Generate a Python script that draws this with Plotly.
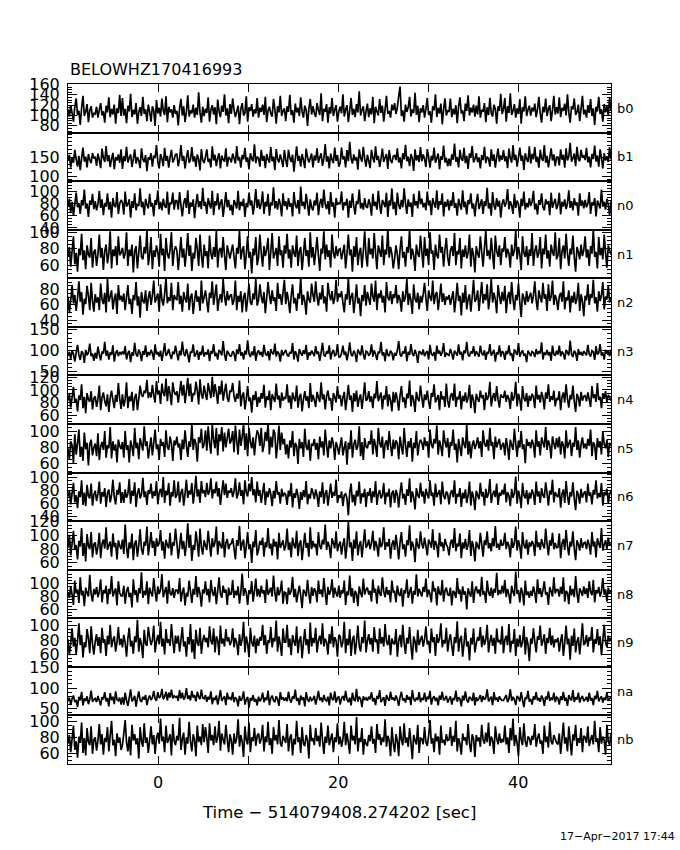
import plotly.graph_objects as go

# ---------------- data ----------------
names = ["b0", "b1", "n0", "n1", "n2", "n3", "n4", "n5", "n6", "n7", "n8", "n9", "na", "nb"]

t_start = -10.0
t_end = 50.3

b0 = [112,98,120,105,88,117,133,101,109,82,115,138,99,107,122,87,110,118,96,104,
      103,117,96,111,124,100,108,86,119,106,135,97,113,102,121,84,114,105,140,99,
      134,100,113,85,119,108,142,97,111,102,124,84,106,116,99,136,103,112,89,121,
      107,88,118,110,80,130,104,115,98,133,109,101,137,87,117,106,112,96,120,103,
      109,81,114,132,100,118,87,107,139,98,110,104,121,96,115,101,145,106,86,117,
      99,113,105,135,88,111,120,102,116,83,131,108,97,119,107,141,100,114,85,122,
      103,133,111,97,108,119,83,113,124,100,105,137,88,116,109,122,98,112,104,134,
      96,115,107,121,101,136,87,110,117,104,98,132,112,84,118,106,138,99,109,114,
      89,118,107,140,101,110,86,123,106,115,99,135,108,96,119,111,80,114,132,102,
      118,105,97,124,110,101,143,89,113,107,122,86,116,104,134,99,111,120,88,108,
      117,104,141,98,112,120,87,109,134,101,113,97,122,106,147,100,111,118,89,108,
      123,97,114,102,136,85,117,108,100,132,105,119,88,112,138,103,109,96,121,110,
      124,103,115,138,156,99,110,88,121,107,116,136,98,112,105,144,101,119,87,114,
      106,120,96,113,134,101,108,86,118,110,141,97,115,104,123,83,112,133,100,109,
      108,133,97,113,102,120,85,117,135,104,110,89,123,109,139,100,115,106,121,98,
      119,102,137,96,111,107,124,87,116,101,134,105,98,121,113,84,118,109,142,103,
      112,134,88,118,105,143,101,109,122,96,114,103,132,84,116,108,137,99,111,119,
      100,115,108,123,97,112,136,104,86,117,106,133,99,113,120,89,110,138,102,116,
      104,135,97,115,109,123,100,141,106,86,118,112,133,101,107,121,89,113,138,102,
      111,96,120,105,132,99,114,82,117,108,136,103,112,88,122,106,118,100,134,109]

b1 = [140,156,122,149,135,169,144,125,153,116,147,175,138,151,123,158,143,134,160,146,
      151,127,159,142,121,172,148,137,179,139,155,124,146,161,118,150,141,157,135,170,
      119,152,139,177,136,148,157,124,145,170,133,150,141,121,173,144,137,155,113,149,
      143,160,125,154,147,181,138,120,158,145,126,174,140,153,122,149,169,136,144,157,
      158,126,146,181,140,153,120,148,168,135,143,176,138,152,124,157,145,115,171,142,
      134,150,170,137,145,123,178,141,156,126,148,160,120,154,143,138,173,125,150,146,
      136,159,147,133,179,141,150,122,155,144,174,137,149,118,160,146,139,183,134,151,
      147,125,169,140,153,121,158,144,135,176,139,151,116,171,145,136,157,142,124,168,
      143,124,169,148,137,156,112,145,178,140,153,125,158,142,121,172,150,136,147,159,
      123,154,141,173,135,149,160,127,146,184,138,152,120,159,143,134,175,140,155,125,
      135,175,144,152,123,168,139,190,146,133,157,141,150,117,170,148,138,177,145,125,
      156,140,121,169,148,136,178,142,153,124,145,172,137,149,158,119,168,143,134,152,
      154,142,173,136,149,120,160,144,182,139,151,126,158,147,114,170,141,155,137,176,
      139,157,145,124,171,150,122,153,141,175,135,147,159,118,152,143,180,136,148,126,
      146,127,157,143,185,138,150,123,169,145,140,174,134,153,119,159,148,179,136,144,
      160,137,149,120,155,142,177,134,151,146,125,170,140,157,122,150,172,138,154,143,
      168,139,152,121,172,147,135,181,142,156,125,149,175,140,154,116,160,145,137,178,
      133,158,144,176,137,151,122,169,146,140,181,135,153,123,148,173,141,157,126,150,
      150,128,170,143,156,122,173,141,152,187,138,147,159,126,177,145,139,169,148,155,
      142,174,136,151,123,158,145,180,138,154,125,170,147,120,160,141,152,137,176,144]

n0 = [76,88,65,83,60,79,98,74,81,63,86,77,103,72,80,58,85,78,96,71,
      84,69,79,101,73,87,61,81,75,97,70,83,57,89,77,74,99,63,80,86,
      82,62,100,75,79,87,57,84,73,97,69,80,76,105,74,83,61,88,78,72,
      96,75,81,59,86,78,102,71,83,69,88,76,73,100,62,82,79,98,70,85,
      85,70,99,77,59,81,89,73,102,63,82,75,87,56,79,96,74,84,71,106,
      76,83,63,89,79,72,101,61,84,77,97,70,81,87,58,78,99,74,86,69,
      78,61,86,80,72,101,69,83,76,88,58,81,74,98,77,85,62,79,104,73,
      87,71,80,100,63,83,75,96,60,82,77,107,72,84,70,88,79,59,97,76,
      84,70,89,75,81,59,99,78,72,86,63,108,76,83,71,96,79,60,87,74,
      69,85,77,98,61,80,88,73,103,79,71,84,62,99,75,82,57,89,78,81,
      80,100,69,82,77,88,57,85,73,97,76,62,84,79,103,72,81,70,89,75,
      73,87,79,60,96,76,83,70,101,78,63,86,81,74,98,58,85,77,105,71,
      83,61,98,78,71,86,74,105,80,63,87,75,82,58,96,77,84,72,101,79,
      88,74,81,69,100,77,85,61,89,80,73,102,70,84,78,97,59,83,75,87,
      69,85,76,99,73,81,60,88,78,70,102,74,83,62,86,79,97,72,80,59,
      82,96,71,79,87,63,84,76,106,72,81,60,99,77,70,89,75,85,57,80,
      87,75,82,104,71,84,77,63,96,73,85,79,57,88,76,100,70,81,74,89,
      76,83,101,70,80,62,86,78,97,74,69,87,79,84,61,98,73,81,88,71,
      78,98,62,83,75,87,71,80,102,73,84,69,89,77,82,60,97,76,85,72,
      86,74,80,99,63,82,77,89,59,85,79,72,103,75,83,70,88,78,61,84]

n1 = [70,82,58,77,95,61,75,52,80,72,98,66,78,55,84,73,69,93,57,76,
      79,59,73,97,69,81,54,77,85,62,74,101,56,79,71,83,60,95,72,75,
      81,68,74,100,59,79,71,85,51,77,83,56,75,96,70,67,82,74,103,60,
      73,94,55,78,70,84,76,58,98,72,80,53,93,74,68,79,100,59,77,83,
      78,54,73,94,69,80,58,76,99,71,84,53,75,68,93,79,59,97,72,57,
      85,71,77,56,96,74,67,82,70,102,57,78,81,69,94,72,54,84,76,68,
      77,85,70,56,81,74,102,67,78,83,55,73,95,69,76,50,80,72,94,60,
      69,97,75,58,83,71,79,93,54,76,99,68,74,81,59,95,72,78,57,84,
      74,98,68,79,57,84,75,70,96,59,77,82,54,73,93,71,78,58,100,69,
      82,60,76,94,72,53,80,74,101,67,85,70,78,57,97,75,68,83,71,79,
      80,67,76,85,56,74,97,72,79,52,83,70,94,60,75,81,57,77,101,71,
      58,93,73,80,68,99,75,55,84,77,70,96,60,79,73,104,69,82,74,56,
      68,84,73,55,79,95,69,76,58,82,75,104,67,80,72,53,85,74,70,96,
      76,57,94,71,80,60,100,74,78,54,85,72,68,97,75,82,58,79,93,70,
      59,78,83,71,99,60,77,73,93,56,79,70,84,68,75,97,58,81,72,51,
      83,74,69,95,76,58,81,102,71,78,67,93,73,55,96,77,70,84,60,80,
      76,94,69,80,74,57,85,71,78,102,67,82,73,54,95,75,70,83,60,79,
      71,99,59,77,84,69,75,94,56,80,73,97,68,78,58,85,76,71,100,67,
      72,93,55,77,84,68,98,74,59,80,73,96,70,52,82,76,67,85,71,78,
      95,69,79,59,83,74,104,70,76,56,94,72,81,67,97,75,57,84,78,73]

n2 = [71,49,66,86,62,73,52,69,91,64,77,47,68,61,85,72,53,89,65,51,
      74,63,70,53,88,67,61,76,50,94,64,71,79,54,68,75,48,86,66,72,
      64,75,53,70,86,61,68,48,73,66,90,59,71,43,77,65,62,79,52,69,
      78,60,72,92,63,69,75,51,87,67,59,74,96,62,70,65,89,53,73,68,
      67,90,61,72,51,77,68,63,88,53,70,75,48,66,79,64,71,52,92,62,
      70,79,65,50,76,69,91,60,73,87,52,67,74,63,94,71,59,78,66,72,
      74,60,67,92,53,72,64,78,50,70,76,51,68,88,63,60,75,67,94,59,
      66,87,71,62,77,49,69,90,73,61,79,65,70,52,89,68,74,60,76,93,
      61,77,66,49,72,87,62,69,52,75,68,96,60,73,65,47,78,67,63,88,
      73,64,91,70,59,76,67,86,62,71,51,89,74,66,78,61,69,93,64,75,
      70,78,63,50,74,67,95,60,71,76,49,66,87,62,69,45,73,65,86,59,
      77,68,60,88,71,64,92,53,75,69,79,63,72,50,90,70,66,78,61,74,
      69,86,62,73,67,51,78,64,71,94,60,75,66,48,87,68,63,76,54,72,
      63,74,89,68,52,79,70,65,92,61,73,77,53,69,88,64,75,60,71,67,
      73,60,69,78,50,67,89,65,72,46,76,63,86,54,68,74,51,70,93,64,
      68,79,52,71,90,62,74,66,87,54,70,94,63,76,67,49,86,72,61,77,
      65,85,49,70,77,61,90,67,53,73,66,88,63,44,75,69,60,78,64,71,
      76,62,72,91,66,53,79,70,63,89,68,74,52,87,65,71,92,60,73,67,
      53,71,76,64,91,54,70,66,79,50,72,63,77,61,68,89,52,74,65,45,
      72,66,87,60,74,69,93,62,70,51,78,65,73,90,54,71,67,86,63,69]

n3 = [88,97,80,101,92,74,95,114,90,78,99,94,71,102,89,96,117,87,93,76,
      95,81,110,91,77,98,93,121,88,100,79,96,90,113,74,94,101,87,97,92,
      98,91,111,79,94,100,73,96,88,119,92,86,103,95,75,99,90,113,85,97,
      89,102,94,78,115,91,97,86,100,76,95,118,88,93,104,90,80,98,92,112,
      93,77,100,89,122,94,87,104,91,72,98,95,115,86,92,101,78,97,90,112,
      86,96,91,103,75,99,93,116,87,95,79,102,97,89,123,92,76,100,94,88,
      87,99,94,75,103,92,116,88,96,79,100,91,125,93,85,98,89,111,76,95,
      101,90,97,85,114,93,88,99,77,104,95,91,117,86,98,93,74,102,89,96,
      102,90,86,97,93,118,79,99,91,74,104,95,88,101,92,114,78,96,89,100,
      94,87,111,92,98,76,96,119,90,86,99,93,113,79,95,102,88,91,116,85,
      85,94,112,90,98,77,95,120,91,87,100,93,73,103,96,89,113,92,79,99,
      97,88,93,115,86,101,92,78,98,94,121,89,96,75,104,91,87,100,95,77,
      95,88,101,123,91,86,98,93,111,75,97,90,116,94,87,102,92,71,99,96,
      90,103,87,95,99,79,114,92,89,97,76,112,93,100,88,96,118,85,94,91,
      89,104,93,79,100,95,88,115,91,97,77,101,94,121,90,86,98,93,111,87,
      99,92,86,112,94,89,101,78,97,93,116,88,95,102,74,96,91,113,86,98,
      96,78,99,92,113,89,94,75,103,97,90,118,86,95,101,88,93,73,100,94,
      87,98,95,85,104,91,99,93,120,79,96,90,102,89,97,76,112,92,88,100,
      91,112,87,98,93,79,102,96,89,124,92,85,100,95,76,104,90,97,88,99,
      94,89,114,92,86,100,97,78,111,91,95,116,88,96,79,102,93,99,87,103]

n4 = [83,94,72,88,105,80,86,66,91,84,109,71,89,63,95,85,81,98,69,87,
      90,73,85,107,68,88,96,82,74,93,65,87,99,84,71,92,81,111,86,70,
      93,74,85,112,71,90,82,97,67,88,94,68,86,107,92,89,99,95,116,87,
      96,88,108,91,80,114,93,99,78,110,95,90,118,82,106,94,76,112,97,92,
      98,80,96,114,91,108,79,97,119,90,110,81,95,92,113,99,77,117,93,86,
      107,94,84,111,98,87,121,89,109,96,78,106,93,115,83,97,110,88,81,99,
      97,111,90,81,94,86,115,74,91,96,69,85,106,82,88,64,92,84,98,73,
      89,80,95,86,108,72,90,84,99,68,93,87,81,110,85,91,71,96,83,88,
      86,109,80,91,70,96,87,82,107,72,89,94,66,85,98,83,90,71,111,81,
      92,84,73,97,88,81,112,85,93,69,90,99,83,87,67,95,89,80,106,86,
      92,74,88,97,68,86,108,84,91,65,95,82,99,73,87,93,70,89,112,83,
      85,98,81,90,71,94,87,114,82,89,96,69,91,85,106,74,93,84,66,97,
      80,96,85,67,91,106,81,88,71,94,87,115,74,92,84,65,97,86,82,107,
      88,72,93,84,99,82,70,95,89,109,80,86,92,68,98,85,90,73,110,83,
      72,90,95,83,110,73,89,85,98,69,91,82,96,80,87,108,71,93,84,63,
      94,86,81,99,87,92,68,96,84,90,113,74,88,95,82,106,85,72,93,89,
      88,99,81,92,86,70,97,83,90,113,74,94,85,67,106,87,82,95,73,91,
      83,94,89,71,107,85,92,80,97,88,69,96,86,109,81,90,84,99,74,87,
      84,98,68,89,96,80,109,86,72,92,85,107,82,65,94,88,74,97,83,90,
      91,82,96,85,73,106,87,93,81,111,84,89,71,95,86,98,80,92,88,83]

n5 = [79,65,88,83,60,97,71,85,103,68,81,63,99,78,86,57,84,90,70,80,
      85,69,98,64,81,87,77,101,67,83,79,106,66,88,76,84,61,90,82,78,
      87,67,101,77,83,61,89,81,69,105,79,86,65,92,84,76,107,82,88,66,
      80,93,70,86,103,78,84,64,91,82,87,68,102,81,77,94,85,63,89,83,
      94,80,85,64,90,78,102,83,68,88,81,110,77,91,85,62,93,86,104,79,
      84,102,76,107,86,72,109,90,79,105,70,97,88,106,75,99,80,92,104,85,
      89,101,74,108,88,71,103,82,94,110,77,98,69,105,87,79,93,70,90,102,
      97,82,105,74,83,100,88,112,71,94,80,103,98,66,85,108,77,99,84,91,
      71,84,66,89,80,101,69,86,82,59,91,79,87,68,104,81,77,90,63,85,
      82,91,77,86,65,94,80,88,70,103,83,67,89,79,93,85,64,87,81,71,
      83,93,70,80,88,58,86,78,102,67,84,90,77,82,107,69,87,64,92,81,
      79,88,84,102,71,91,82,68,105,86,80,94,66,85,89,77,101,83,69,90,
      78,89,85,65,94,81,71,105,83,68,88,80,92,62,86,79,101,70,84,90,
      86,77,93,82,88,67,103,84,79,91,85,108,71,89,81,69,102,87,80,92,
      67,87,82,103,77,85,61,91,80,69,93,84,79,109,71,88,66,83,89,78,
      84,93,79,88,68,102,85,81,90,76,105,82,87,65,94,80,86,91,77,83,
      86,70,92,81,64,90,83,77,104,85,68,89,80,101,78,84,60,91,82,87,
      79,90,84,67,102,81,88,70,93,86,80,106,77,89,83,66,94,85,78,92,
      80,94,71,88,83,66,102,79,85,90,69,86,81,106,77,89,67,84,93,79,
      85,78,91,82,103,69,87,83,64,92,80,88,71,101,84,79,90,68,86,82]

n6 = [71,80,59,76,92,62,73,53,79,70,96,58,77,56,89,72,68,91,57,74,
      80,64,75,94,60,78,71,84,55,76,82,62,73,97,70,59,81,74,93,61,
      78,61,82,69,75,98,60,80,72,93,55,76,84,68,74,100,70,79,58,81,
      75,91,68,79,72,95,59,77,83,70,101,61,80,73,92,57,78,71,96,69,
      73,94,62,77,83,57,75,97,69,80,74,92,60,78,103,71,82,61,95,76,
      81,70,92,74,79,99,68,82,76,94,71,84,58,78,96,73,91,69,80,77,
      84,70,79,99,68,75,93,72,81,59,96,77,71,91,79,101,73,82,62,94,
      72,81,61,77,92,58,79,70,84,75,56,80,68,95,74,78,60,83,71,76,
      74,58,80,71,92,54,76,69,83,72,52,78,66,81,70,95,59,75,68,84,
      77,67,82,73,55,79,70,93,60,76,81,57,74,91,69,78,72,97,61,73,
      69,79,56,73,75,68,42,77,91,62,74,57,80,71,94,60,76,70,83,55,
      78,72,84,61,79,70,95,58,75,81,68,73,92,59,77,71,83,54,76,80,
      61,81,74,54,77,93,68,75,58,82,72,99,62,79,70,51,84,73,69,92,
      71,79,60,83,74,68,96,72,77,57,91,70,76,81,59,94,73,67,79,75,
      59,76,81,70,96,60,75,71,84,55,77,68,82,61,73,94,57,79,70,50,
      80,73,67,92,71,78,57,83,69,76,98,61,74,80,70,91,58,77,72,81,
      74,91,62,78,72,56,83,69,76,102,60,80,71,53,92,73,68,81,59,77,
      68,82,75,58,94,71,79,61,84,73,69,93,76,57,80,74,97,62,78,72,
      70,84,54,75,82,61,95,72,58,78,71,93,68,50,80,74,60,83,69,76,
      79,62,91,72,77,59,81,74,96,68,76,70,92,57,78,73,83,61,75,80]

n7 = [82,101,71,88,107,79,86,65,92,84,111,70,89,62,102,85,80,105,68,87,
      90,72,84,104,67,88,94,81,112,79,86,91,69,103,83,89,65,93,85,80,
      94,73,116,83,67,90,81,103,64,88,93,69,86,109,80,72,91,85,113,71,
      87,105,82,92,70,96,84,89,108,78,91,66,94,86,81,104,71,90,85,110,
      89,66,84,104,80,92,70,87,118,82,101,63,86,79,106,90,69,110,83,72,
      93,85,79,107,88,69,96,83,90,113,72,92,86,81,105,68,89,95,80,87,
      88,96,81,65,93,85,114,78,89,94,67,84,105,80,87,60,91,83,108,71,
      79,92,86,97,69,90,83,111,81,88,71,95,84,91,65,104,82,87,93,78,
      85,110,79,90,68,97,86,81,107,70,88,93,64,84,104,82,89,69,112,80,
      92,83,88,71,105,85,80,94,87,116,79,91,84,67,96,89,81,106,77,86,
      91,72,87,96,66,85,121,83,90,63,94,81,106,71,86,92,68,88,109,82,
      86,94,80,89,107,78,92,85,69,97,83,88,112,79,90,84,95,66,87,93,
      79,101,84,65,90,105,80,87,69,93,86,115,78,91,83,61,96,85,81,106,
      88,81,97,85,71,94,89,82,109,79,92,86,68,104,84,90,77,95,87,83,
      71,89,94,82,111,77,88,84,103,67,90,81,95,79,86,108,70,92,83,62,
      91,85,80,104,87,69,93,86,106,81,89,77,96,84,114,82,88,79,94,85,
      87,104,80,91,85,68,96,82,89,113,78,93,84,66,105,86,81,94,72,90,
      84,92,87,70,107,83,90,79,95,86,81,110,88,71,93,85,104,80,89,82,
      83,103,67,88,95,79,108,85,71,91,84,106,81,64,93,87,78,96,82,89,
      90,80,94,86,72,105,84,91,68,96,88,82,111,78,87,93,80,97,85,88]

n8 = [87,78,96,83,67,105,85,91,70,110,82,89,65,94,86,80,114,84,72,92,
      83,95,79,88,107,71,90,85,97,68,92,84,112,80,87,93,66,104,86,81,
      81,97,69,88,95,79,86,63,107,83,90,71,93,85,118,78,89,82,104,68,
      94,86,80,109,88,72,96,84,91,115,79,87,95,69,105,85,82,93,78,90,
      90,84,109,72,87,94,66,86,80,105,88,70,92,83,112,79,95,85,64,91,
      85,104,82,92,71,106,87,81,95,68,89,110,84,78,97,86,91,67,94,83,
      84,106,78,89,82,96,69,87,116,81,93,86,67,90,84,104,72,88,108,80,
      92,79,97,85,90,70,107,83,88,94,80,113,86,72,95,82,89,105,69,87,
      86,68,94,83,89,111,79,92,71,85,97,82,62,91,87,80,106,84,69,95,
      81,93,88,71,105,84,91,79,109,86,67,95,83,89,107,78,94,85,80,97,
      78,90,85,105,67,88,82,113,80,93,70,89,84,65,96,86,79,108,83,91,
      94,83,89,72,107,86,92,69,97,85,81,110,88,79,95,83,90,71,105,87,
      88,71,97,84,81,93,64,90,85,107,78,87,95,69,89,83,115,80,92,86,
      80,95,87,108,79,91,84,71,104,88,93,66,96,85,82,106,72,89,94,83,
      82,94,66,89,86,78,109,84,91,72,96,83,88,60,93,85,80,104,70,90,
      96,85,91,80,111,83,88,70,105,87,81,94,78,92,86,117,82,90,84,97,
      85,106,79,92,83,69,97,87,81,119,84,90,71,94,86,66,105,82,88,78,
      89,81,96,86,70,107,84,93,79,90,104,83,87,67,95,88,80,110,85,91,
      91,80,95,84,110,72,89,86,68,97,82,92,79,112,85,70,93,88,81,96,
      84,93,78,104,87,82,106,71,90,85,95,80,88,109,83,91,72,94,86,89]

n9 = [81,59,75,96,71,83,61,79,103,73,87,56,77,70,95,82,62,99,75,60,
      78,88,72,84,62,97,76,81,58,86,74,101,70,80,85,64,77,98,73,82,
      70,87,76,57,82,97,71,79,61,85,77,108,64,83,74,55,94,75,72,98,
      84,73,80,100,63,78,87,74,105,71,82,60,95,76,81,72,102,79,62,86,
      75,86,64,80,98,71,78,57,84,74,102,63,81,54,94,76,72,97,61,79,
      87,77,83,70,99,79,74,96,63,85,80,59,100,75,82,71,95,78,84,73,
      78,96,70,83,76,59,88,72,81,105,63,85,75,56,97,77,71,86,62,82,
      72,84,79,101,73,87,61,80,76,98,70,83,78,107,64,85,74,58,96,77,
      77,101,70,82,59,87,78,72,99,62,80,85,55,76,95,73,81,61,104,71,
      83,76,97,63,79,86,74,103,71,82,77,60,88,75,99,70,84,79,57,87,
      85,70,77,105,62,82,73,95,58,80,86,60,78,100,72,64,84,76,107,63,
      79,88,74,83,64,98,77,81,61,96,75,84,71,102,78,73,87,59,82,76,
      74,95,57,79,87,70,101,76,61,83,75,98,72,53,85,78,63,94,73,80,
      86,71,81,99,74,79,62,96,77,84,58,88,76,82,103,70,80,75,97,64,
      80,88,72,58,84,76,106,64,81,86,57,75,97,71,78,52,83,74,96,63,
      75,84,79,98,70,86,73,81,101,63,78,87,72,83,61,96,77,80,74,99,
      62,80,86,73,102,63,79,75,95,58,82,71,87,70,77,99,60,84,74,51,
      82,75,96,78,63,85,80,100,72,79,88,61,83,76,97,73,86,70,81,77,
      83,64,79,88,58,76,100,74,82,53,86,72,96,63,78,84,60,80,103,73,
      76,87,71,84,79,98,63,81,75,95,73,85,59,80,101,77,70,86,78,83]

na = [68,77,59,74,82,66,71,54,79,70,91,58,75,69,80,61,73,94,67,72,
      75,66,81,70,58,78,73,90,68,76,56,88,71,79,61,92,72,69,77,60,
      78,60,89,70,57,76,97,68,73,81,55,75,92,71,66,79,72,83,59,74,
      82,71,77,93,74,69,90,76,80,98,73,79,91,70,89,77,96,75,81,78,
      80,69,95,75,89,72,78,100,74,82,70,93,77,83,68,91,79,73,96,76,
      74,83,67,79,72,92,61,77,71,82,60,76,95,69,75,80,59,89,73,78,
      71,90,66,78,73,56,81,69,75,92,60,72,79,53,76,70,83,67,74,58,
      79,68,74,89,66,77,71,94,59,75,82,70,67,80,73,57,90,72,78,69,
      77,68,91,72,65,80,74,96,69,76,59,82,71,78,56,90,73,67,79,70,
      73,81,60,75,93,70,77,66,83,72,69,79,58,89,74,71,92,65,76,80,
      60,75,81,69,93,73,66,77,58,89,72,70,98,67,79,74,54,80,71,76,
      70,79,73,90,68,76,59,81,74,95,66,72,78,57,83,75,69,91,72,77,
      69,82,73,57,78,91,70,75,65,83,72,79,59,95,74,68,77,71,90,66,
      76,71,89,67,79,73,93,60,75,80,69,77,58,82,72,91,70,74,81,65,
      73,80,60,76,71,94,67,78,74,56,82,70,92,72,65,79,75,69,89,58,
      78,69,75,83,66,81,72,76,97,68,74,79,59,90,71,77,67,80,73,70,
      70,77,83,66,74,97,69,79,72,59,81,76,68,90,71,54,78,73,93,67,
      74,60,80,72,90,70,76,67,82,75,57,79,73,92,69,77,71,89,66,78,
      75,60,80,71,91,69,77,57,83,74,70,95,66,78,72,89,65,76,81,68,
      72,79,67,89,70,76,59,81,73,93,68,75,80,65,77,71,90,69,74,79]

nb = [72,83,61,78,95,64,75,54,81,73,99,60,79,57,92,74,70,94,59,77,
      80,63,76,97,71,84,58,79,74,93,62,82,101,70,77,56,85,73,80,64,
      70,85,102,74,62,81,57,96,76,84,71,79,53,93,75,68,98,73,80,60,
      77,94,71,83,59,79,86,72,104,75,81,61,95,73,78,84,57,97,76,70,
      82,76,105,64,78,86,58,80,72,100,75,62,84,77,56,95,74,81,70,97,
      74,93,79,60,98,76,83,70,94,73,80,101,63,85,77,71,96,78,61,84,
      76,58,85,72,79,103,68,83,74,55,94,77,71,99,61,80,75,92,69,82,
      85,72,78,96,62,81,74,100,70,79,59,93,76,83,71,102,73,68,82,77,
      73,97,62,79,84,57,78,71,101,74,80,60,93,72,69,83,76,53,96,75,
      79,70,92,75,82,68,99,77,59,81,73,95,70,78,85,61,80,74,98,71,
      81,68,77,100,70,85,73,59,95,76,82,71,106,62,79,74,92,58,78,72,
      69,83,75,94,72,78,60,97,77,84,70,80,74,103,68,82,76,56,93,73,
      61,84,75,56,94,77,70,98,73,80,68,92,74,52,83,76,71,96,60,79,
      78,71,93,74,69,82,102,72,79,61,85,75,81,58,95,73,77,70,84,76,
      77,93,69,82,74,101,62,79,72,58,85,76,80,70,97,73,61,84,78,55,
      83,75,80,68,96,77,72,86,74,99,69,81,76,59,94,79,71,85,73,78,
      74,95,71,80,60,92,76,104,69,83,73,56,93,77,70,98,75,68,81,79,
      70,82,77,97,68,79,85,72,76,59,95,74,81,67,100,75,71,83,78,73,
      71,85,59,78,99,72,80,62,94,75,57,84,76,96,69,79,73,92,61,82,
      80,73,94,69,77,83,71,101,74,79,61,93,72,81,76,58,96,75,70,84]

series = [b0, b1, n0, n1, n2, n3, n4, n5, n6, n7, n8, n9, na, nb]

y_ranges = [[67, 161], [87, 214], [37, 117], [44, 103], [31, 95], [41, 157], [46, 123],
            [48, 110], [33, 108], [50, 121], [46, 122], [43, 110], [34, 151], [46, 108]]
y_ticks = [[80, 100, 120, 140, 160], [100, 150], [40, 60, 80, 100], [60, 80, 100], [40, 60, 80],
           [50, 100, 150], [60, 80, 100, 120], [60, 80, 100], [40, 60, 80, 100], [60, 80, 100, 120],
           [60, 80, 100], [60, 80, 100], [50, 100, 150], [60, 80, 100]]
y_minor = [5, 10, 5, 5, 5, 10, 5, 5, 5, 5, 5, 5, 10, 5]

x_tickvals = [0, 10, 20, 30, 40]
x_ticktext = ["0", "", "20", "", "40"]

title_text = "BELOWHZ170416993"
xlabel_text = "Time \u2212 514079408.274202 [sec]"
date_text = "17\u2212Apr\u22122017 17:44"

# ---------------- figure ----------------
FONT = "DejaVu Sans"
n = len(series)
fig = go.Figure()
layout = {}
for i, (nm, vals) in enumerate(zip(names, series)):
    npts = len(vals)
    dt = (t_end - t_start) / (npts - 1)
    tt = [t_start + k * dt for k in range(npts)]
    sfx = "" if i == 0 else str(i + 1)
    fig.add_trace(go.Scatter(x=tt, y=vals, mode="lines",
                             line=dict(color="black", width=1.7, simplify=False),
                             xaxis="x" + sfx, yaxis="y" + sfx,
                             hoverinfo="skip", showlegend=False))
    layout["xaxis" + sfx] = dict(
        domain=[0, 1], anchor="y" + sfx, range=[t_start, t_end],
        showline=True, linecolor="black", linewidth=1, mirror="ticks",
        ticks="inside", ticklen=8, tickwidth=1, tickcolor="black",
        tickmode="array", tickvals=x_tickvals, ticktext=x_ticktext,
        showticklabels=(i == n - 1), showgrid=False, zeroline=False,
        tickfont=dict(family=FONT, size=16, color="black"),
        ticklabelstandoff=4,
    )
    layout["yaxis" + sfx] = dict(
        domain=[1 - (i + 1) / n, 1 - i / n], anchor="x" + sfx, range=y_ranges[i],
        showline=True, linecolor="black", linewidth=1, mirror="ticks",
        ticks="inside", ticklen=9, tickwidth=1, tickcolor="black",
        tickmode="array", tickvals=y_ticks[i],
        minor=dict(ticks="inside", ticklen=4, tickmode="linear", tick0=0,
                   dtick=y_minor[i], tickcolor="black", showgrid=False),
        showgrid=False, zeroline=False,
        tickfont=dict(family=FONT, size=16, color="black"),
        ticklabelstandoff=4,
    )

annotations = []
for i, nm in enumerate(names):
    annotations.append(dict(text=nm, xref="paper", yref="paper", x=1.007,
                            y=1 - (i + 0.5) / n, xanchor="left", yanchor="middle",
                            showarrow=False, font=dict(family=FONT, size=13, color="black")))
annotations.append(dict(text=title_text, xref="paper", yref="paper", x=0.0, y=1.022,
                        xanchor="left", yanchor="middle", showarrow=False,
                        font=dict(family=FONT, size=16, color="black")))
annotations.append(dict(text=xlabel_text, xref="paper", yref="paper", x=0.499, y=-0.072,
                        xanchor="center", yanchor="middle", showarrow=False,
                        font=dict(family=FONT, size=16.5, color="black")))
annotations.append(dict(text=date_text, xref="paper", yref="paper", x=1.1215, y=-0.107,
                        xanchor="right", yanchor="middle", showarrow=False,
                        font=dict(family=FONT, size=11, color="black")))

fig.update_layout(
    width=680, height=850,
    margin=dict(l=68, r=69, t=84, b=86, pad=0),
    paper_bgcolor="white", plot_bgcolor="white",
    showlegend=False, annotations=annotations,
    **layout,
)

fig.write_html("out.html", config={"displayModeBar": False},
               post_script="document.body.style.margin='0px';")
